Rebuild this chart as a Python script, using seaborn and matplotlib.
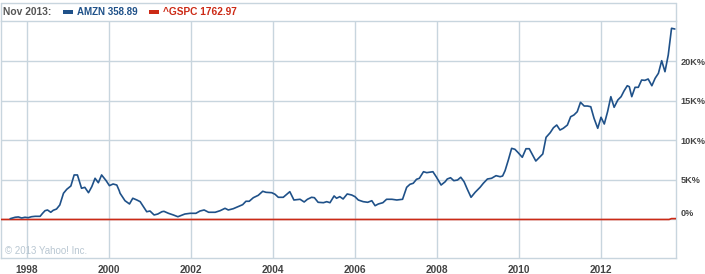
import matplotlib
matplotlib.use("Agg")
import matplotlib.pyplot as plt
import matplotlib.transforms as mtransforms
import seaborn as sns
import pandas as pd
from matplotlib.patches import Rectangle

# ---------------- data ----------------
amzn_years = [1997.59, 1997.71, 1997.79, 1997.87, 1997.95, 1998.03, 1998.11, 1998.20, 1998.32, 1998.38,
              1998.44, 1998.50, 1998.58, 1998.64, 1998.72, 1998.80, 1998.89, 1998.97, 1999.07, 1999.15,
              1999.23, 1999.33, 1999.41, 1999.50, 1999.58, 1999.66, 1999.74, 1999.82, 1999.93, 2000.01,
              2000.10, 2000.19, 2000.25, 2000.27, 2000.39, 2000.50, 2000.58, 2000.68, 2000.76, 2000.84,
              2000.92, 2001.00, 2001.10, 2001.19, 2001.29, 2001.34, 2001.45, 2001.57, 2001.68, 2001.77,
              2001.85, 2001.98, 2002.12, 2002.22, 2002.32, 2002.43, 2002.59, 2002.71, 2002.83, 2002.91,
              2003.03, 2003.15, 2003.26, 2003.34, 2003.42, 2003.52, 2003.64, 2003.75, 2003.83, 2003.97,
              2004.05, 2004.13, 2004.25, 2004.41, 2004.51, 2004.66, 2004.76, 2004.84, 2004.94, 2005.01,
              2005.10, 2005.23, 2005.31, 2005.39, 2005.49, 2005.55, 2005.63, 2005.71, 2005.81, 2005.92,
              2006.00, 2006.08, 2006.20, 2006.31, 2006.41, 2006.49, 2006.57, 2006.68, 2006.77, 2006.90,
              2007.02, 2007.16, 2007.26, 2007.34, 2007.42, 2007.50, 2007.57, 2007.67, 2007.75, 2007.90,
              2007.98, 2008.10, 2008.20, 2008.25, 2008.33, 2008.41, 2008.50, 2008.58, 2008.66, 2008.74,
              2008.83, 2008.93, 2009.05, 2009.13, 2009.23, 2009.33, 2009.44, 2009.54, 2009.60, 2009.66,
              2009.74, 2009.82, 2009.90, 2009.98, 2010.08, 2010.17, 2010.25, 2010.33, 2010.41, 2010.50,
              2010.58, 2010.66, 2010.76, 2010.84, 2010.92, 2011.00, 2011.08, 2011.18, 2011.26, 2011.34,
              2011.42, 2011.50, 2011.59, 2011.67, 2011.75, 2011.83, 2011.92, 2012.00, 2012.08, 2012.16,
              2012.24, 2012.32, 2012.41, 2012.49, 2012.56, 2012.64, 2012.69, 2012.75, 2012.83, 2012.91,
              2012.99, 2013.07, 2013.15, 2013.24, 2013.32, 2013.40, 2013.48, 2013.56, 2013.64, 2013.72,
              2013.80]
amzn_pct = [100, 280, 320, 190, 280, 230, 350, 400, 400, 780,
            1110, 1200, 910, 1160, 1320, 1830, 3310, 3810, 4230, 5620,
            5620, 3940, 4060, 3380, 4140, 5200, 4640, 5620, 4900, 4270,
            4480, 4350, 3630, 3310, 2370, 1960, 2680, 2460, 2250, 1620,
            980, 1070, 570, 690, 980, 1030, 780, 570, 350, 530,
            690, 780, 780, 1070, 1200, 910, 910, 1110, 1410, 1200,
            1360, 1620, 1870, 2300, 2300, 2750, 3050, 3560, 3430, 3380,
            3180, 2800, 2800, 3510, 2460, 2550, 2210, 2550, 2800, 2750,
            2170, 2120, 2250, 2120, 2970, 2680, 2880, 2590, 3220, 3090,
            2880, 2460, 2250, 2170, 2370, 1740, 1960, 2120, 2550, 2550,
            2460, 2550, 4060, 4440, 4570, 5070, 5200, 6030, 5910, 6030,
            5400, 4350, 4770, 5110, 5270, 4900, 4980, 5330, 4770, 3810,
            2800, 3430, 4060, 4570, 5110, 5200, 5530, 5400, 5490, 6160,
            7510, 8980, 8860, 8430, 7850, 8930, 8930, 8140, 7380, 7850,
            8270, 10370, 10950, 11580, 11920, 11290, 11510, 11920, 12970, 13190,
            13600, 14790, 14320, 14320, 14230, 12770, 11510, 12900, 12050, 13600,
            15500, 14160, 15080, 15500, 16210, 16880, 16760, 15500, 16680, 16680,
            17600, 17560, 17730, 16880, 17820, 18450, 20040, 18650, 20760, 24130,
            24040]

gspc_years = [1997.37, 2013.66, 2013.72, 2013.83]
gspc_pct = [0, 0, 110, 110]

x_ticks = [1998, 2000, 2002, 2004, 2006, 2008, 2010, 2012]
y_ticks = [0, 5000, 10000, 15000, 20000]
y_tick_labels = ["0%", "5K%", "10K%", "15K%", "20K%"]

header_date = "Nov 2013:"
legend_labels = ["AMZN 358.89", "^GSPC 1762.97"]
copyright_text = "\u00a9 2013 Yahoo! Inc."

# ---------------- styling ----------------
sns.set_theme(style="white")
plt.rcParams["font.family"] = ["Liberation Sans", "DejaVu Sans"]

BLUE = "#1f5189"
RED = "#cc2a16"
GRID = "#c8d5de"
TXT = "#444444"

W, H = 705, 274
fig = plt.figure(figsize=(W / 100, H / 100), dpi=100)
fig.patch.set_facecolor("white")

def fx(px):
    return px / W

def fy(py):
    return 1 - py / H

left, right, top, bottom = 1, 676, 21, 258
ax = fig.add_axes([fx(left), fy(bottom), (right - left) / W, (bottom - top) / H])
ax.set_facecolor("white")

df_a = pd.DataFrame({"year": amzn_years, "pct": amzn_pct})
df_s = pd.DataFrame({"year": gspc_years, "pct": gspc_pct})
sns.lineplot(data=df_s, x="year", y="pct", ax=ax, color=RED, linewidth=1.2, zorder=3)
sns.lineplot(data=df_a, x="year", y="pct", ax=ax, color=BLUE, linewidth=1.2, zorder=4)

ax.set_xlim(1997.366, 2013.829)
ax.set_ylim(-4860, 25050)
ax.set_xlabel("")
ax.set_ylabel("")

ax.set_xticks(x_ticks)
ax.set_xticklabels([str(t) for t in x_ticks], fontsize=7.3, fontweight="bold", color=TXT)
ax.tick_params(axis="x", length=0, pad=5)

ax.yaxis.tick_right()
ax.set_yticks(y_ticks)
ax.set_yticklabels(y_tick_labels, fontsize=6.6, fontweight="bold", color=TXT)
ax.tick_params(axis="y", length=0, pad=3)
# nudge the 0% label upward like the reference
for lbl in ax.get_yticklabels():
    if lbl.get_text() == "0%":
        lbl.set_transform(lbl.get_transform() + mtransforms.ScaledTranslation(0, 7 / 100, fig.dpi_scale_trans))

ax.grid(True, color=GRID, linewidth=1.0)
ax.set_axisbelow(True)
for s in ax.spines.values():
    s.set_color(GRID)
    s.set_linewidth(1.0)

# outer header box
fig.add_artist(plt.Line2D([fx(1), fx(676)], [fy(3), fy(3)], color=GRID, lw=1.0, transform=fig.transFigure))
fig.add_artist(plt.Line2D([fx(1), fx(1)], [fy(3), fy(21)], color=GRID, lw=1.0, transform=fig.transFigure))
fig.add_artist(plt.Line2D([fx(676), fx(676)], [fy(3), fy(21)], color=GRID, lw=1.0, transform=fig.transFigure))

# header text
fig.text(fx(3), fy(12), header_date, fontsize=7.4, fontweight="bold", color="#555555", va="center", ha="left")
fig.add_artist(Rectangle((fx(63), fy(14)), 10 / W, 4 / H, transform=fig.transFigure, color=BLUE, lw=0))
fig.text(fx(77), fy(12), legend_labels[0], fontsize=7.0, fontweight="bold", color=BLUE, va="center", ha="left")
fig.add_artist(Rectangle((fx(149), fy(14)), 10 / W, 4 / H, transform=fig.transFigure, color=RED, lw=0))
fig.text(fx(163), fy(12), legend_labels[1], fontsize=7.3, fontweight="bold", color=RED, va="center", ha="left")

# copyright
fig.text(fx(5), fy(251), copyright_text, fontsize=7, color="#b9c7d2", va="center", ha="left")

fig.savefig("out.png", dpi=100, facecolor="white")
